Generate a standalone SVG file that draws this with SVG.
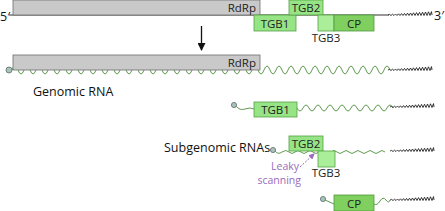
<svg xmlns="http://www.w3.org/2000/svg" xmlns:xlink="http://www.w3.org/1999/xlink" width="445" height="211" viewBox="0 0 445 211">
<style>
.gbox{fill:#c9c9c9;stroke:#6e6e6e;stroke-width:0.8}
.tgb{fill:#97e486;stroke:#56a044;stroke-width:0.8}
.tgb3{fill:#abee9a;stroke:#56a044;stroke-width:0.8}
.cp{fill:#7fd05f;stroke:#4f9a3d;stroke-width:0.8}
.lbl{font-family:"Open Sans","Liberation Sans",sans-serif;font-size:11.5px;fill:#222}
.big{font-family:"Open Sans","Liberation Sans",sans-serif;font-size:12.5px;fill:#111}
.purp{font-family:"Open Sans","Liberation Sans",sans-serif;font-size:10.5px;fill:#9a6bb8}
.wave{fill:none;stroke:#5f9a50;stroke-width:1}
.tail{fill:none;stroke:#222;stroke-width:0.9}
.line{fill:none;stroke:#333;stroke-width:1}
.cap{fill:#a9c2bb;stroke:#5e706c;stroke-width:0.8}
</style>
<defs>
<path id="tail" class="tail" d="M0,0 L1.5,-0.6 L3,0.5 L4.5,-0.8 L6,0.5 L7.5,-1 L9,0.5 L10.5,-1.2 L12,0.5 L13.5,-1.4 L15,0.5 L16.5,-1.6 L18,0.5 L19.5,-1.8 L21,0.5 L22.5,-2 L24,0.5 L25.5,-2.2 L27,0.5 L28.5,-2.4 L30,0.5 L31.5,-2.6 L33,0.5 L34.5,-2.8 L36,0.5 L37.5,-3 L39,0.5 L40.5,-3.2 L42,0.5 L43.5,-3.4 L44,0"/>
<marker id="ah" markerWidth="8" markerHeight="8" refX="7" refY="4" orient="auto" markerUnits="userSpaceOnUse">
<path d="M0,0 L8,4 L0,8 Z" fill="#111"/>
</marker>
<marker id="ahp" markerWidth="6" markerHeight="6" refX="5" refY="3" orient="auto" markerUnits="userSpaceOnUse">
<path d="M0,0 L6,3 L0,6 Z" fill="#9a6bb8"/>
</marker>
</defs>

<g id="connectors">
<line x1="201.5" y1="26" x2="201.5" y2="50" stroke="#111" stroke-width="1.3" marker-end="url(#ah)"/>
<line x1="300" y1="167" x2="314" y2="154" stroke="#9a6bb8" stroke-width="1" stroke-dasharray="2,1.5" marker-end="url(#ahp)"/>
</g>

<g id="genome">
<line class="line" x1="9" y1="15" x2="389" y2="15"/>
<use xlink:href="#tail" x="388" y="15"/>
<text class="big" x="0" y="21">5′</text>
<text class="big" x="434" y="20">3′</text>
<rect class="gbox" x="13" y="0" width="247" height="15"/>
<text class="lbl" x="256" y="11.5" text-anchor="end">RdRp</text>
</g>
<g id="tgb1-top">
<rect class="tgb" x="254" y="15" width="42" height="16"/>
<text class="lbl" x="275" y="27.5" text-anchor="middle">TGB1</text>
</g>
<g id="tgb2-top">
<rect class="tgb" x="289" y="0" width="34" height="15"/>
<text class="lbl" x="306" y="12" text-anchor="middle">TGB2</text>
</g>
<g id="tgb3-top">
<rect class="tgb3" x="318" y="15" width="16" height="16"/>
<text class="lbl" x="326" y="42" text-anchor="middle">TGB3</text>
</g>
<g id="cp-top">
<rect class="cp" x="334" y="15" width="40" height="16"/>
<text class="lbl" x="354" y="27.5" text-anchor="middle">CP</text>
</g>

<g id="genomic-rna">
<path class="wave" d="M12,70 q3,-8 6,0 t6,0 t6,0 t6,0 t6,0 t6,0 t6,0 t6,0 t6,0 t6,0 t6,0 t6,0 t6,0 t6,0 t6,0 t6,0 t6,0 t6,0 t6,0 t6,0 t6,0 t6,0 t6,0 t6,0 t6,0 t6,0 t6,0 t6,0 t6,0 t6,0 t6,0 t6,0 t6,0 t6,0 t6,0 t6,0 t6,0 t6,0 t6,0 t6,0 t6,0 t6,0 t6,0 t6,0 t6,0 t6,0 t6,0 t6,0 t6,0 t6,0 t6,0 t6,0 t6,0 t6,0 t6,0 t6,0 t6,0 t6,0 t6,0 t6,0 t6,0 t6,0 t6,0"/>
<use xlink:href="#tail" x="388" y="70"/>
<rect class="gbox" x="13" y="55" width="247" height="15"/>
<text class="lbl" x="256" y="66.5" text-anchor="end">RdRp</text>
<circle class="cap" cx="9" cy="70" r="3"/>
<text class="big" x="33" y="96">Genomic RNA</text>
</g>

<g id="sg-tgb1">
<path class="wave" d="M236,106 q4,5 9,3 t9,0"/>
<path class="wave" d="M297,108 q3,6 6,0 t6,0 t6,0 t6,0 t6,0 t6,0 t6,0 t6,0 t6,0 t6,0 t6,0 t6,0 t6,0 t6,0 t6,0 t6,0"/>
<use xlink:href="#tail" x="390" y="107"/>
<rect class="tgb" x="254" y="102" width="43" height="15"/>
<text class="lbl" x="275.5" y="114" text-anchor="middle">TGB1</text>
<circle class="cap" cx="234" cy="105" r="2.6"/>
</g>

<g id="sg-tgb2">
<path class="wave" d="M275,151 q3,4 7,1 t7,0 t6,0 t6,0 t6,0 t6,0 t6,0 t6,0 t6,0 t6,0 t6,0 t6,0 t6,0 t6,0 t6,0 t6,0 t6,0 t6,0"/>
<use xlink:href="#tail" x="390" y="151"/>
<rect class="tgb" x="289" y="136" width="34" height="15"/>
<text class="lbl" x="306" y="148" text-anchor="middle">TGB2</text>
<rect class="tgb3" x="318" y="151" width="17" height="16"/>
<text class="lbl" x="326" y="177" text-anchor="middle">TGB3</text>
<circle class="cap" cx="273" cy="150" r="2.6"/>
<text class="big" x="164" y="152">Subgenomic RNAs</text>
<text class="purp" x="299" y="170" text-anchor="end">Leaky</text>
<text class="purp" x="301" y="184" text-anchor="end">scanning</text>
</g>

<g id="sg-cp">
<path class="wave" d="M325,200 L334,204"/>
<path class="wave" d="M374,204 q3,2 6,-3 t6,-1 t4,0"/>
<use xlink:href="#tail" x="390" y="200"/>
<rect class="cp" x="334" y="195" width="40" height="16"/>
<text class="lbl" x="354" y="207.5" text-anchor="middle">CP</text>
<circle class="cap" cx="323" cy="199" r="2.6"/>
</g>
</svg>
